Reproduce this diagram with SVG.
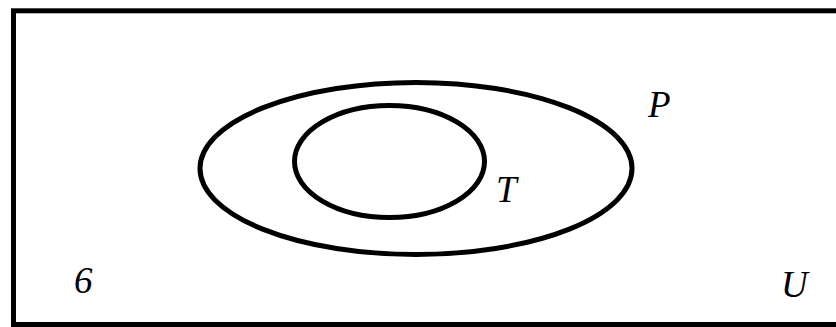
<svg xmlns="http://www.w3.org/2000/svg" width="836" height="327" viewBox="0 0 836 327">
<style>
.b{fill:none;stroke:#000;stroke-width:5}
</style>
<rect width="836" height="327" fill="#fff"/>
<g id="universe">
<rect class="b" x="13.5" y="10.8" width="830" height="313.7"/>
<text x="781" y="297" font-family="Liberation Serif, serif" font-style="italic" font-size="37">U</text>
</g>
<g id="P">
<ellipse class="b" cx="416" cy="168.5" rx="216" ry="86"/>
<text x="648" y="117" font-family="Liberation Serif, serif" font-style="italic" font-size="37">P</text>
</g>
<g id="T">
<ellipse class="b" cx="389.5" cy="161.5" rx="95" ry="56"/>
<text x="496" y="202" font-family="Liberation Serif, serif" font-style="italic" font-size="37">T</text>
</g>
<g id="label6">
<text x="74" y="293" font-family="Liberation Serif, serif" font-style="italic" font-size="37">6</text>
</g>
<g id="connectors"/>
</svg>
